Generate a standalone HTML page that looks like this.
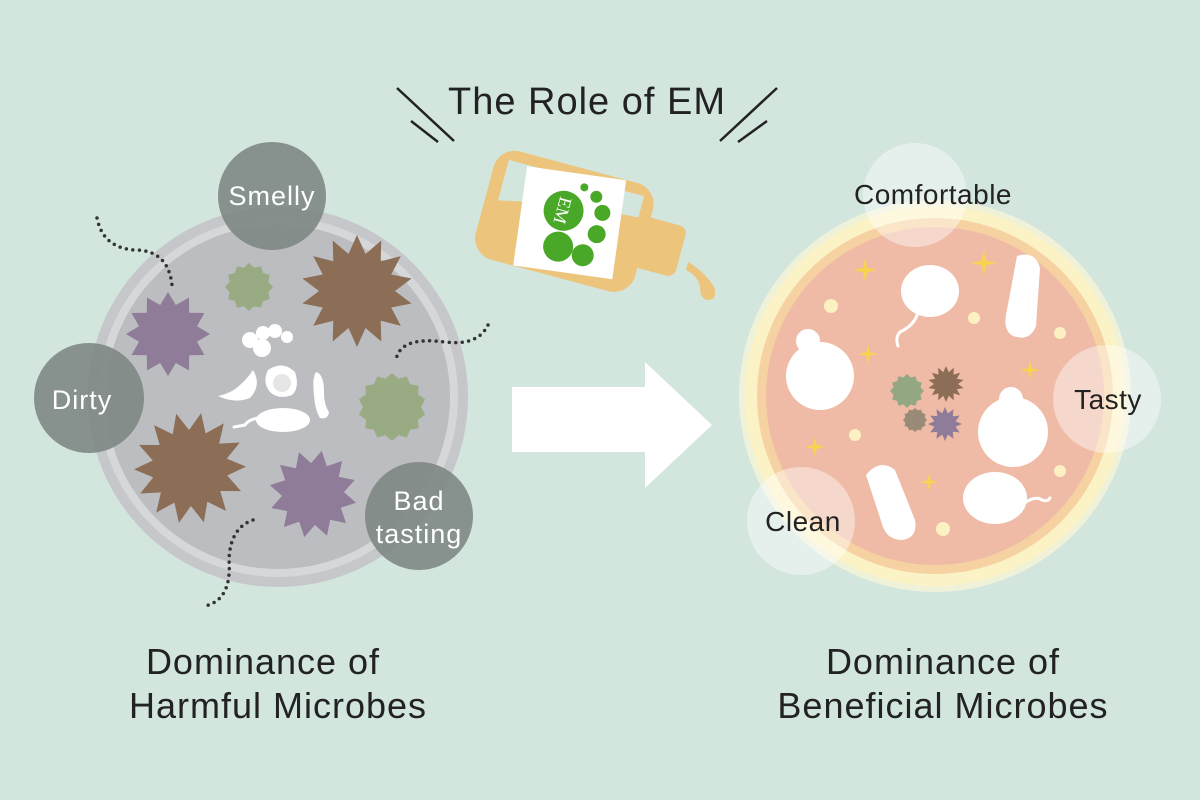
<!DOCTYPE html>
<html><head><meta charset="utf-8"><style>
html,body{margin:0;padding:0;background:#d2e6de;}
svg{display:block;font-family:"Liberation Sans",sans-serif;}
</style></head><body>
<svg id="s" width="1200" height="800" viewBox="0 0 1200 800" xmlns="http://www.w3.org/2000/svg">
<rect width="1200" height="800" fill="#d2e6de"/>
<!-- title -->
<text x="587" y="114" font-size="38" text-anchor="middle" fill="#222" letter-spacing="1">The Role of EM</text>
<g stroke="#222" stroke-width="2.5">
<line x1="397" y1="88" x2="454" y2="141"/><line x1="411" y1="121" x2="438" y2="142"/>
<line x1="777" y1="88" x2="720" y2="141"/><line x1="767" y1="121" x2="738" y2="142"/>
</g>
<!-- left dish -->
<circle cx="278" cy="397" r="190" fill="#c6c7ca"/>
<circle cx="278" cy="397" r="180" fill="#d6d7d9"/>
<circle cx="278" cy="397" r="172" fill="#bcbdc1"/>
<g id="stars"></g>
<!-- center white cluster -->
<g fill="#fff">
<circle cx="250" cy="340" r="8"/><circle cx="263" cy="333" r="7"/><circle cx="275" cy="331" r="7"/><circle cx="287" cy="337" r="6"/><circle cx="262" cy="348" r="9"/>
<path d="M253 370 Q262 385 250 398 Q235 404 218 396 Q232 393 240 385 Q248 378 253 370Z"/>
<path d="M268 370 Q283 360 295 372 Q300 388 292 395 Q278 400 270 392 Q262 382 268 370Z"/>
<path d="M316 372 Q324 374 324 392 Q324 405 329 412 Q328 420 320 418 Q315 410 314 395 Q312 378 316 372Z"/>
<ellipse cx="283" cy="420" rx="27" ry="12"/>
</g>
<circle cx="282" cy="383" r="9" fill="#e6e6e6"/>
<path d="M258 418 Q248 420 245 425 L234 427" stroke="#fff" stroke-width="3" fill="none" stroke-linecap="round"/>
<!-- dotted -->
<g fill="none" stroke="#333" stroke-width="3.5" stroke-linecap="round" stroke-dasharray="0 6.5">
<path d="M97 218 Q103 248 135 250 Q168 250 172 285"/>
<path d="M488 325 Q478 346 445 342 Q400 336 396 360"/>
<path d="M253 520 Q230 528 229 560 Q232 600 205 606"/>
</g>
<!-- left labels -->
<g fill="#7e8784" opacity="0.9">
<circle cx="272" cy="196" r="54"/><circle cx="89" cy="398" r="55"/><circle cx="419" cy="516" r="54"/>
</g>
<g fill="#fff" font-size="27" text-anchor="middle" letter-spacing="1">
<text x="272" y="205">Smelly</text><text x="82" y="409">Dirty</text>
<text x="419" y="510">Bad</text><text x="419" y="543">tasting</text>
</g>
<!-- bottle -->
<g transform="translate(-6 16) rotate(15 580 210)">
<rect x="487" y="152" width="165" height="112" rx="22" fill="#ecc47c"/>
<path d="M500 163 L640 163 L640 185 Q560 190 500 205Z" fill="#d2e6de"/>
<rect x="645" y="182" width="45" height="52" rx="8" fill="#ecc47c"/>
<rect x="525" y="158" width="100" height="100" fill="#fff" transform="rotate(-7 575 208)"/>
<g fill="#4aa829">
<circle cx="566" cy="198" r="20"/><circle cx="570" cy="234" r="15"/><circle cx="596" cy="236" r="11"/>
<circle cx="604" cy="212" r="9"/><circle cx="604" cy="190" r="8"/><circle cx="594" cy="176" r="6"/><circle cx="580" cy="170" r="4"/>
</g>
<text x="566" y="205" font-family="Liberation Serif,serif" font-size="18" fill="#fff" text-anchor="middle" transform="rotate(90 566 198)">EM</text>
</g>
<path d="M688 262 Q705 272 714 287 Q718 300 708 300 Q700 299 700 287 Q698 276 686 270Z" fill="#ecc47c"/>
<!-- arrow -->
<path d="M512 387 L645 387 L645 362 L712 425 L645 488 L645 452 L512 452Z" fill="#fff"/>
<!-- right dish -->
<circle cx="935" cy="396" r="196" fill="#fbf6d6" opacity="0.7"/>
<circle cx="935" cy="396" r="190" fill="#fbf3c6"/>
<circle cx="935" cy="396" r="178" fill="#f6d2a2"/>
<circle cx="935" cy="396" r="169" fill="#efbba6"/>
<g fill="#fff">
<ellipse cx="930" cy="291" rx="29" ry="26"/>
<path d="M1017 256 Q1035 250 1040 268 L1036 326 Q1030 342 1013 336 Q1003 330 1006 315Z"/>
<circle cx="820" cy="376" r="34"/><circle cx="808" cy="341" r="12"/>
<circle cx="1013" cy="432" r="35"/><circle cx="1011" cy="399" r="12"/>
<path d="M866 475 Q880 458 895 470 L915 520 Q918 538 902 540 Q888 540 883 527Z"/>
<ellipse cx="995" cy="498" rx="32" ry="26"/>
</g>
<g stroke="#fff" stroke-width="3" fill="none" stroke-linecap="round">
<path d="M918 312 Q915 325 900 332 Q895 338 898 346"/>
<path d="M1023 504 Q1035 495 1042 500 Q1048 502 1050 498"/>
</g>
<g fill="#fbf1c2">
<circle cx="831" cy="306" r="7"/><circle cx="974" cy="318" r="6"/><circle cx="1060" cy="333" r="6"/>
<circle cx="855" cy="435" r="6"/><circle cx="1060" cy="471" r="6"/><circle cx="943" cy="529" r="7"/>
</g>
<g id="spark" fill="#f8d44e"></g>
<!-- right labels -->
<g fill="#fff" opacity="0.42">
<circle cx="915" cy="195" r="52"/><circle cx="1107" cy="399" r="54"/><circle cx="801" cy="521" r="54"/>
</g>
<g fill="#222" font-size="28" text-anchor="middle" letter-spacing="0.5">
<text x="933" y="204">Comfortable</text><text x="1108" y="409">Tasty</text><text x="803" y="531">Clean</text>
</g>
<!-- bottom text -->
<g fill="#222" font-size="36" text-anchor="middle" letter-spacing="1">
<text x="263" y="674">Dominance of</text><text x="278" y="718">Harmful Microbes</text>
<text x="943" y="674">Dominance of</text><text x="943" y="718">Beneficial Microbes</text>
</g>
</svg>
<script>
var NS="http://www.w3.org/2000/svg";
function star(g,cx,cy,ro,ri,n,fill,rot){var p=[];for(var i=0;i<2*n;i++){var r=i%2?ri:ro,a=Math.PI*i/n+(rot||0);p.push((cx+r*Math.sin(a)).toFixed(1)+","+(cy-r*Math.cos(a)).toFixed(1));}
var e=document.createElementNS(NS,"polygon");e.setAttribute("points",p.join(" "));e.setAttribute("fill",fill);g.appendChild(e);}
var g=document.getElementById("stars");
star(g,357,291,56,38,14,"#8b6e55");
star(g,190,468,56,38,14,"#8b6e55",0.2);
star(g,168,334,42,30,12,"#8e7c98");
star(g,313,494,44,31,12,"#8e7c98",0.2);
star(g,249,287,24,20,12,"#98ab82");
star(g,392,407,34,29,14,"#98ab82");
var h=document.getElementById("s");
var m=document.createElementNS(NS,"g");h.insertBefore(m,document.getElementById("spark"));
star(m,907,391,17,14,12,"#93a882");
star(m,946,384,18,12,14,"#8b6e55");
star(m,915,420,12,10,12,"#9a8a78");
star(m,945,424,17,11,12,"#8e7c98");
var sp=document.getElementById("spark");
[[865,270,12],[984,263,13],[868,354,10],[1030,370,10],[815,447,10],[929,482,9]].forEach(function(s){star(sp,s[0],s[1],s[2],s[2]*0.25,4,"#f8d44e");});
</script>
</body></html>
